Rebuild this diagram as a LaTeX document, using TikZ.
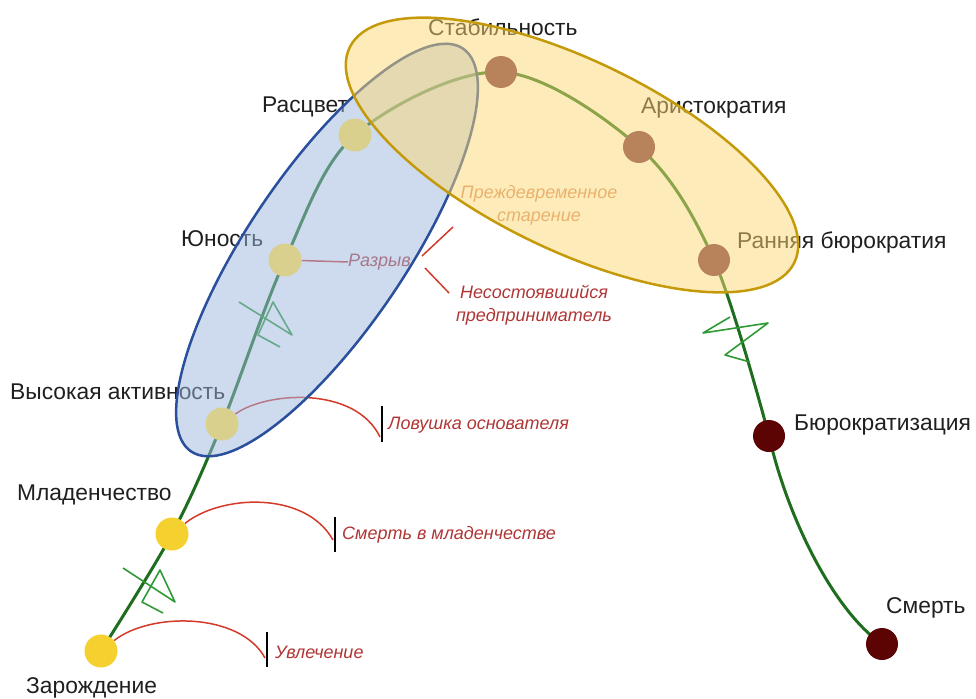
\documentclass[tikz,border=0pt]{standalone}
\usepackage{fontspec}
\setmainfont{Liberation Sans}
\definecolor{lineg}{HTML}{1F6E1F}
\definecolor{zigg}{HTML}{2F9A35}
\definecolor{yel}{HTML}{F5D130}
\definecolor{khaki}{HTML}{D8D08C}
\definecolor{brownd}{HTML}{B8825A}
\definecolor{darkr}{HTML}{5C0303}
\definecolor{redarc}{HTML}{D23A2A}
\definecolor{redtxt}{HTML}{B03535}
\definecolor{agetxt}{HTML}{D88A6A}
\definecolor{bluefill}{HTML}{9DB8E0}
\definecolor{blueedge}{HTML}{2A4F9C}
\definecolor{yelfill}{HTML}{FCD873}
\definecolor{yeledge}{HTML}{C49A0A}
\begin{document}
\begin{tikzpicture}[x=1pt,y=-1pt,
  stage/.style={circle,minimum size=33pt,inner sep=0pt},
  lbl/.style={font=\fontsize{22.8}{26}\selectfont,text=black!88,inner sep=0pt},
  rlbl/.style={font=\fontsize{18}{23}\selectfont\itshape,text=redtxt,inner sep=0pt,align=center},
  curve/.style={lineg,line width=3pt,line cap=round},
  zig/.style={zigg,line width=1.6pt,line join=round},
  riskarc/.style={redarc,line width=1.5pt},
  bar/.style={black,line width=2pt},
  blueell/.style={draw=blueedge,line width=2.5pt,fill=bluefill,fill opacity=0.5},
  yelell/.style={draw=yeledge,line width=2.5pt,fill=yelfill,fill opacity=0.5}]
\useasboundingbox (0,0) rectangle (976,698);
% stage positions
\node[stage] (zar) at (101,651) {};
\node[stage] (mlad) at (172,534) {};
\node[stage] (vys) at (222,424) {};
\node[stage] (yun) at (285,260) {};
\node[stage] (ras) at (355,135) {};
\node[stage] (stab) at (501,72) {};
\node[stage] (arist) at (639,147) {};
\node[stage] (rbur) at (714,260) {};
\node[stage] (bur) at (769,436) {};
\node[stage] (smert) at (882,644) {};
% life curve
\draw[curve] plot[smooth,tension=0.55] coordinates {(zar.center) (mlad.center) (vys.center) (yun.center) (ras.center) (stab.center) (arist.center) (rbur.center) (bur.center)}
  .. controls (788,520) and (835,612) .. (smert.center);
% zigzags
\draw[zig] (123,568) -- (175,602) -- (160,570) -- (142,602) -- (163,613);
\draw[zig] (239,302) -- (292,335) -- (273,302) -- (258,335) -- (280,347);
\draw[zig] (730,317) -- (703,333) -- (768,323) -- (725,355) -- (750,362);
% stage labels
\node[lbl,anchor=west] (lstab) at (428,27) {Стабильность};
\node[lbl,anchor=west] (lras) at (262,107) {Расцвет};
\node[lbl,anchor=west] (larist) at (641,108) {Аристократия};
\node[lbl,anchor=west] (lyun) at (181,239) {Юность};
\node[lbl,anchor=west] (lrbur) at (737,243) {Ранняя бюрократия};
\node[lbl,anchor=west] (lvys) at (10,392) {Высокая активность};
\node[lbl,anchor=west] (lbur) at (794,425) {Бюрократизация};
\node[lbl,anchor=west] (lmlad) at (17,495) {Младенчество};
\node[lbl,anchor=west] (lsmert) at (886,608) {Смерть};
\node[lbl,anchor=west] (lzar) at (26,688) {Зарождение};
% traps
\coordinate (e1) at (265,658);
\coordinate (e2) at (333,540);
\coordinate (e3) at (380,437);
\draw[riskarc] (zar) .. controls (150,612) and (240,612) .. (e1);
\draw[riskarc] (mlad) .. controls (220,495) and (305,490) .. (e2);
\draw[riskarc] (vys) .. controls (265,392) and (355,385) .. (e3);
\draw[bar] (267,632) -- (267,667);
\draw[bar] (335,517) -- (335,552);
\draw[bar] (382,406) -- (382,442);
\node[rlbl,anchor=west] (tuvl) at (275,652) {Увлечение};
\node[rlbl,anchor=west] (tsmm) at (342,535) {Смерть в младенчестве};
\node[rlbl,anchor=west] (tlov) at (388,425) {Ловушка основателя};
% gap
\node[rlbl,anchor=west] (razr) at (348,262) {Разрыв};
\draw[riskarc] (yun) -- (razr.west);
\coordinate (g1) at (422,256);
\coordinate (g2) at (453,227);
\coordinate (g3) at (425,268);
\coordinate (g4) at (449,293);
\draw[riskarc] (g1) -- (g2);
\draw[riskarc] (g3) -- (g4);
\node[rlbl,anchor=north] (nesost) at (534,285) {Несостоявшийся\\предприниматель};
\node[rlbl,anchor=north,text=agetxt] (prezh) at (539,185) {Преждевременное\\старение};
% zones
\draw[blueell,rotate around={56:(327,250)}] (327,250) ellipse [x radius=243pt, y radius=79pt];
\draw[yelell,rotate around={-25.8:(572,155)}] (572,155) ellipse [x radius=247pt, y radius=95pt];
% dots
\fill[yel] (zar.center) circle[radius=16.5pt];
\fill[yel] (mlad.center) circle[radius=16.5pt];
\fill[khaki] (vys.center) circle[radius=16.5pt];
\fill[khaki] (yun.center) circle[radius=16.5pt];
\fill[khaki] (ras.center) circle[radius=16.5pt];
\fill[brownd] (stab.center) circle[radius=16pt];
\fill[brownd] (arist.center) circle[radius=16pt];
\fill[brownd] (rbur.center) circle[radius=16pt];
\fill[darkr] (bur.center) circle[radius=16pt];
\fill[darkr] (smert.center) circle[radius=16pt];
\end{tikzpicture}
\end{document}
